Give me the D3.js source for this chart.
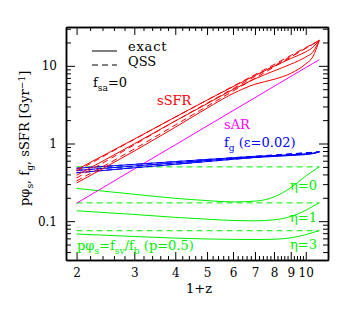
<!DOCTYPE html>
<html lang="en">
<head>
<meta charset="utf-8">
<title>sSFR, sAR, f_g and p phi_s vs 1+z</title>
<script src="https://d3js.org/d3.v7.js"></script>
<style>
  body { margin: 0; background: #fff; }
  text { font-family: "DejaVu Serif", serif; }
</style>
</head>
<body>
<div id="my_dataviz"></div>
<script>

// 1+z grid the curves are read at
const onePlusZ = [2, 3, 4, 5, 6, 7, 8, 9, 10, 10.5, 11];

// sSFR [Gyr^-1] : exact (solid) and QSS (dashed), three curves each
const ssfrExactA = [0.46, 1.14, 2.19, 3.62, 5.40, 7.50, 9.90, 12.4, 15.2, 17.3, 21.3];
const ssfrExactB = [0.39, 0.99, 1.95, 3.25, 4.95, 6.80, 8.60, 10.5, 13.0, 15.0, 21.3];
const ssfrExactC = [0.31, 0.80, 1.62, 2.85, 4.40, 5.80, 6.70, 8.00, 10.6, 13.0, 21.3];
const ssfrQssA   = [0.44, 1.13, 2.19, 3.62, 5.45, 7.70, 10.4, 13.6, 17.2, 19.2, 21.3];
const ssfrQssB   = [0.36, 0.96, 1.95, 3.30, 5.09, 7.30, 10.0, 13.2, 16.9, 19.0, 21.2];
const ssfrQssC   = [0.33, 0.85, 1.73, 3.01, 4.73, 6.92, 9.65, 12.9, 16.8, 18.9, 21.3];

// specific accretion rate [Gyr^-1]
const sAR = [0.17, 0.47, 0.96, 1.68, 2.65, 3.89, 5.44, 7.30, 9.50, 10.7, 12.0];

// gas fraction f_g (epsilon = 0.02)
const fgExactA = [0.48, 0.539, 0.585, 0.623, 0.656, 0.684, 0.70, 0.715, 0.735, 0.75, 0.78];
const fgExactB = [0.45, 0.513, 0.563, 0.605, 0.641, 0.670, 0.69, 0.71, 0.73, 0.745, 0.78];
const fgExactC = [0.42, 0.487, 0.540, 0.586, 0.626, 0.660, 0.68, 0.70, 0.72, 0.74, 0.78];
const fgQssA   = [0.48, 0.539, 0.585, 0.623, 0.656, 0.686, 0.713, 0.737, 0.759, 0.770, 0.78];
const fgQssB   = [0.45, 0.513, 0.563, 0.605, 0.641, 0.674, 0.704, 0.731, 0.757, 0.769, 0.78];
const fgQssC   = [0.42, 0.487, 0.540, 0.586, 0.626, 0.662, 0.695, 0.725, 0.754, 0.767, 0.78];

// p*phi_s, exact, for eta = 0, 1, 3
const phiEta0 = [0.264, 0.222, 0.197, 0.184, 0.177, 0.181, 0.205, 0.27, 0.38, 0.44, 0.50];
const phiEta1 = [0.136, 0.122, 0.112, 0.106, 0.102, 0.101, 0.104, 0.115, 0.138, 0.155, 0.172];
const phiEta3 = [0.0683, 0.0635, 0.0605, 0.059, 0.0583, 0.058, 0.0585, 0.061, 0.067, 0.0715, 0.0753];

// p*phi_s, QSS (flat)
const qssZ = [2, 11];
const qssPhi0 = [0.50, 0.50];
const qssPhi1 = [0.172, 0.172];
const qssPhi3 = [0.0753, 0.0753];

// ticks
const xMajor = [2, 3, 4, 5, 6, 7, 8, 9, 10];
const xMinor = [2.2, 2.4, 2.6, 2.8, 3.2, 3.4, 3.6, 3.8, 4.2, 4.4, 4.6, 4.8,
                5.2, 5.4, 5.6, 5.8, 6.2, 6.4, 6.6, 6.8, 7.2, 7.4, 7.6, 7.8,
                8.2, 8.4, 8.6, 8.8, 9.2, 9.4, 9.6, 9.8];
const yMajor = [0.1, 1, 10];
const yMinor = [0.04, 0.05, 0.06, 0.07, 0.08, 0.09,
                0.2, 0.3, 0.4, 0.5, 0.6, 0.7, 0.8, 0.9,
                2, 3, 4, 5, 6, 7, 8, 9, 20, 30];

// set the dimensions and margins of the graph
const margin = {top: 27, right: 31, bottom: 59, left: 66},
    width = 359 - margin.left - margin.right,
    height = 319 - margin.top - margin.bottom;

const svg = d3.select("#my_dataviz")
  .append("svg")
    .attr("width", width + margin.left + margin.right)
    .attr("height", height + margin.top + margin.bottom)
  .append("g")
    .attr("transform", `translate(${margin.left}, ${margin.top})`);

const x = d3.scaleLog()
  .domain([1.857, 11.69])
  .range([0, width]);

const y = d3.scaleLog()
  .domain([Math.pow(10, -1.5), Math.pow(10, 1.5)])
  .range([height, 0]);

// clip so curves stay inside the frame
svg.append("clipPath").attr("id", "clip")
  .append("rect").attr("width", width).attr("height", height);

const plot = svg.append("g").attr("clip-path", "url(#clip)");

const line = d3.line()
  .x((d, i) => x(onePlusZ[i]))
  .y(d => y(d))
  .curve(d3.curveMonotoneX);

const flat = d3.line()
  .x((d, i) => x(qssZ[i]))
  .y(d => y(d));

const dash = "6,4";
const green = "#00f000";

function curve(values, color, dashed, gen) {
  plot.append("path")
    .datum(values)
    .attr("fill", "none")
    .attr("stroke", color)
    .attr("stroke-width", 1)
    .attr("stroke-dasharray", dashed ? dash : null)
    .attr("d", (gen || line)(values));
}

// green p*phi_s
curve(qssPhi0, green, true, flat);
curve(qssPhi1, green, true, flat);
curve(qssPhi3, green, true, flat);
curve(phiEta0, green, false);
curve(phiEta1, green, false);
curve(phiEta3, green, false);

// magenta sAR
curve(sAR, "#ff00ff", false);

// blue f_g
[fgExactA, fgExactB, fgExactC].forEach(v => curve(v, "#0000ff", false));
[fgQssA, fgQssB, fgQssC].forEach(v => curve(v, "#0000ff", true));

// red sSFR
[ssfrExactA, ssfrExactB, ssfrExactC].forEach(v => curve(v, "#ff0000", false));
[ssfrQssA, ssfrQssB, ssfrQssC].forEach(v => curve(v, "#ff0000", true));

// axes: ticks point inwards, all four sides
function styleAxis(g) {
  g.selectAll("path.domain").attr("stroke", "#000").attr("stroke-width", 1.5);
  g.selectAll(".tick line").attr("stroke", "#000").attr("stroke-width", 1);
  g.selectAll("text")
    .attr("font-family", "DejaVu Serif, serif")
    .attr("font-size", 12)
    .attr("fill", "#000");
}

svg.append("g")
  .attr("transform", `translate(0, ${height})`)
  .call(d3.axisBottom(x).tickValues(xMajor).tickSize(-8).tickSizeOuter(0)
    .tickPadding(8).tickFormat(d3.format("d")))
  .call(styleAxis);
svg.append("g")
  .attr("transform", `translate(0, ${height})`)
  .call(d3.axisBottom(x).tickValues(xMinor).tickSize(-4).tickSizeOuter(0).tickFormat(""))
  .call(styleAxis);
svg.append("g")
  .call(d3.axisTop(x).tickValues(xMajor).tickSize(-8).tickSizeOuter(0).tickFormat(""))
  .call(styleAxis);
svg.append("g")
  .call(d3.axisTop(x).tickValues(xMinor).tickSize(-4).tickSizeOuter(0).tickFormat(""))
  .call(styleAxis);

svg.append("g")
  .call(d3.axisLeft(y).tickValues(yMajor).tickSize(-9).tickSizeOuter(0)
    .tickPadding(9).tickFormat(d => d < 1 ? d3.format(".1f")(d) : d3.format("d")(d)))
  .call(styleAxis);
svg.append("g")
  .call(d3.axisLeft(y).tickValues(yMinor).tickSize(-5).tickSizeOuter(0).tickFormat(""))
  .call(styleAxis);
svg.append("g")
  .attr("transform", `translate(${width}, 0)`)
  .call(d3.axisRight(y).tickValues(yMajor).tickSize(-9).tickSizeOuter(0).tickFormat(""))
  .call(styleAxis);
svg.append("g")
  .attr("transform", `translate(${width}, 0)`)
  .call(d3.axisRight(y).tickValues(yMinor).tickSize(-5).tickSizeOuter(0).tickFormat(""))
  .call(styleAxis);

// text with sub/superscripts: parts = [[string, shift]], shift 0 normal, 1 sub, -1 sup
function label(parent, px, py, parts, color, size) {
  const t = parent.append("text")
    .attr("x", px).attr("y", py)
    .attr("fill", color)
    .attr("font-size", size);
  let cur = 0;
  parts.forEach(([s, shift]) => {
    const target = shift * size * 0.3;
    t.append("tspan")
      .attr("dy", target - cur)
      .attr("font-size", shift ? size * 0.7 : size)
      .text(s);
    cur = target;
  });
  return t;
}

const root = d3.select("#my_dataviz svg");

// axis titles
label(root, 186, 293, [["1+z", 0]], "#000", 13);
label(root, 0, 0, [["p\u03c6", 0], ["s", 1], [", f", 0], ["g", 1], [", sSFR [Gyr", 0], ["\u22121", -1], ["]", 0]], "#000", 13)
  .attr("transform", "translate(29, 206) rotate(-90)");

// legend
svg.append("line")
  .attr("x1", 92 - margin.left).attr("x2", 117 - margin.left)
  .attr("y1", 51 - margin.top).attr("y2", 51 - margin.top)
  .attr("stroke", "#000").attr("stroke-width", 1);
svg.append("line")
  .attr("x1", 92 - margin.left).attr("x2", 117 - margin.left)
  .attr("y1", 65 - margin.top).attr("y2", 65 - margin.top)
  .attr("stroke", "#000").attr("stroke-width", 1)
  .attr("stroke-dasharray", dash);
label(root, 128, 51, [["exact", 0]], "#000", 13).attr("letter-spacing", 0.8);
label(root, 128, 66, [["QSS", 0]], "#000", 13);
label(root, 93, 87, [["f", 0], ["sa", 1], ["=0", 0]], "#000", 13);

// curve labels
label(root, 157, 105, [["sSFR", 0]], "#ff0000", 13);
label(root, 224, 129, [["sAR", 0]], "#ff00ff", 13);
label(root, 224, 147, [["f", 0], ["g", 1], ["  (\u03b5=0.02)", 0]], "#0000ff", 13);
label(root, 290, 190, [["\u03b7=0", 0]], green, 13);
label(root, 290, 222, [["\u03b7=1", 0]], green, 13);
label(root, 290, 249, [["\u03b7=3", 0]], green, 13);
label(root, 77, 250, [["p\u03c6", 0], ["s", 1], ["=f", 0], ["sv", 1], ["/f", 0], ["b", 1], [" (p=0.5)", 0]], green, 13);

</script>
</body>
</html>
